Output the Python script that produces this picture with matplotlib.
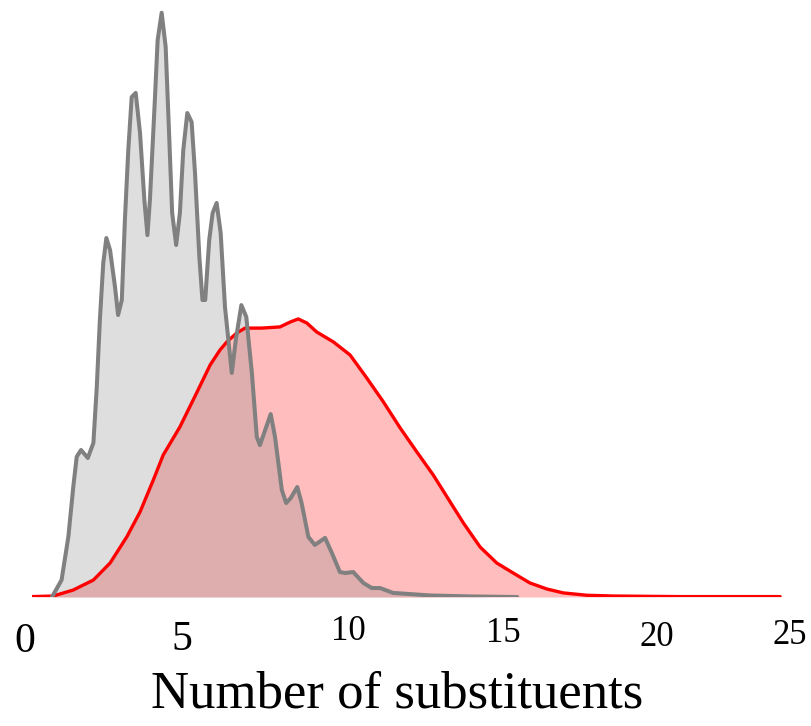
import matplotlib
matplotlib.use("Agg")
import matplotlib.pyplot as plt
import numpy as np

# Density of the number of substituents, two sets
gray_x = [0.66, 0.97, 1.19, 1.35, 1.46, 1.60, 1.82, 2.00, 2.11, 2.21, 2.32, 2.42,
          2.54, 2.70, 2.80, 2.92, 3.02, 3.13, 3.24, 3.37, 3.51, 3.65, 3.75, 3.83,
          3.99, 4.08, 4.21, 4.34, 4.45, 4.55, 4.68, 4.80, 4.91, 5.04, 5.18, 5.29,
          5.43, 5.53, 5.62, 5.75, 5.86, 5.99, 6.12, 6.26, 6.48, 6.61, 6.79, 6.95,
          7.13, 7.29, 7.39, 7.56, 7.74, 7.88, 8.10, 8.24, 8.39, 8.60, 8.74, 8.96,
          9.17, 9.50, 9.72, 9.98, 10.15, 10.41, 10.74, 11.01, 11.28, 11.70, 12.90,
          14.19, 15.72]
gray_y = [0.0, 0.0087, 0.0309, 0.0566, 0.0719, 0.0754, 0.0713, 0.0790, 0.1078,
          0.1421, 0.1713, 0.1841, 0.1779, 0.1590, 0.1446, 0.1523, 0.1933, 0.2292,
          0.2564, 0.2585, 0.2379, 0.2036, 0.1856, 0.2036, 0.2549, 0.2856, 0.2996,
          0.2821, 0.2379, 0.1969, 0.1805, 0.1969, 0.2292, 0.2482, 0.2436, 0.2174,
          0.1744, 0.1523, 0.1523, 0.1831, 0.1969, 0.2021, 0.1867, 0.1487, 0.1149,
          0.1318, 0.1497, 0.1436, 0.1149, 0.0821, 0.0779, 0.0856, 0.0938, 0.0821,
          0.0549, 0.0482, 0.0508, 0.0564, 0.0482, 0.0308, 0.0267, 0.0303, 0.0226,
          0.0128, 0.0123, 0.0128, 0.0072, 0.0046, 0.0046, 0.0021, 0.0008, 0.0003,
          0.0]

red_x = [0.0, 0.70, 1.35, 2.00, 2.54, 3.08, 3.51, 3.94, 4.26, 4.80, 5.34, 5.78,
         6.10, 6.32, 6.64, 6.91, 7.45, 8.04, 8.37, 8.63, 8.91, 9.23, 9.77, 10.31,
         10.85, 11.39, 11.93, 12.47, 13.00, 13.98, 14.52, 15.06, 15.59, 16.13,
         16.68, 17.21, 17.97, 18.83, 21.00, 24.23]
red_y = [0.0002, 0.0005, 0.0036, 0.0087, 0.0174, 0.0308, 0.0436, 0.0600, 0.0728,
         0.0872, 0.1046, 0.1190, 0.1267, 0.1308, 0.1354, 0.1379, 0.1379, 0.1385,
         0.1410, 0.1426, 0.1405, 0.1359, 0.1308, 0.1241, 0.1123, 0.1000, 0.0867,
         0.0744, 0.0626, 0.0379, 0.0256, 0.0174, 0.0123, 0.0072, 0.0041, 0.0021,
         0.0009, 0.0005, 0.0002, 0.0002]

tick_values = [0, 5, 10, 15, 20, 25]
tick_labels = ["0", "5", "10", "15", "20", "25"]
x_label = "Number of substituents"

# label placement (pixel offsets from each tick, font sizes)
tick_dx = [-6.6, -4.0, 7.5, 8.0, 7.6, -14.6]
tick_dy = [-45, -43, -35, -36, -41, -39]
tick_size = [30, 30, 25, 25, 25, 25]

serif = ["Liberation Serif", "DejaVu Serif"]

fig = plt.figure(figsize=(8.11, 7.26), dpi=100)
ax = fig.add_axes([31.6 / 811, 129 / 726, 772.3 / 811, 592 / 726])

ax.fill_between(red_x, red_y, 0, color="red", alpha=0.26, linewidth=0)
ax.fill_between(gray_x, gray_y, 0, color="#808080", alpha=0.26, linewidth=0)
ax.plot(red_x, red_y, color="red", linewidth=2.4, solid_joinstyle="round",
        solid_capstyle="round")
ax.plot(gray_x, gray_y, color="#808080", linewidth=2.9, solid_joinstyle="round",
        solid_capstyle="round")

ax.set_xlim(0, 25)
ax.set_ylim(0, 592 / 1950)
ax.set_xticks([])
ax.set_yticks([])
for s in ax.spines.values():
    s.set_visible(False)
ax.patch.set_visible(False)

for v, lab, dx, dy, fs in zip(tick_values, tick_labels, tick_dx, tick_dy, tick_size):
    ax.annotate(lab, xy=(v, 0), xycoords=("data", "axes fraction"),
                xytext=(dx, dy), textcoords="offset pixels",
                ha="center", va="center", fontsize=fs, family=serif,
                annotation_clip=False)

fig.text(397.5 / 811, 18 / 726, x_label, ha="center", va="baseline",
         fontsize=38, family=serif)

fig.savefig("out.png", dpi=100)
